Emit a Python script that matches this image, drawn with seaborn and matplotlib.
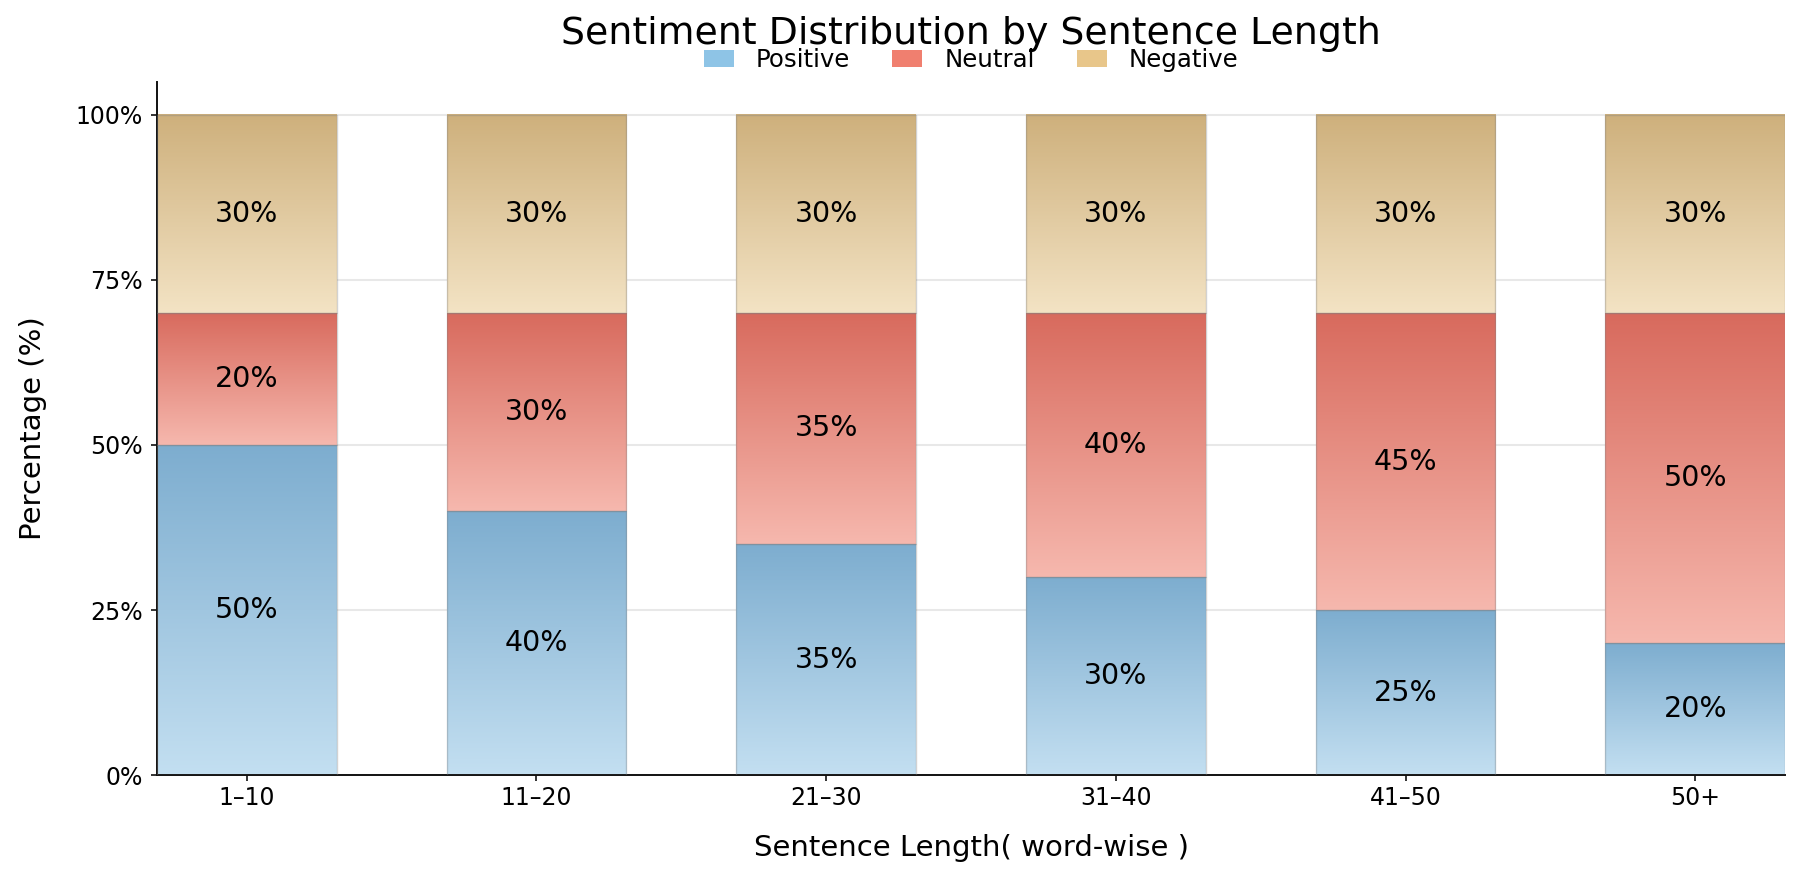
import numpy as np
import pandas as pd
import matplotlib
matplotlib.use("Agg")
import matplotlib.pyplot as plt
import seaborn as sns
from matplotlib.colors import LinearSegmentedColormap
from matplotlib.patches import Patch
from matplotlib.ticker import PercentFormatter

# ---------------------------------------
# Data
# ---------------------------------------

lengths = ["1–10", "11–20", "21–30", "31–40", "41–50", "50+"]
positive = [50, 40, 35, 30, 25, 20]
neutral = [20, 30, 35, 40, 45, 50]
negative = [30, 30, 30, 30, 30, 30]

sentiments = ["Positive", "Neutral", "Negative"]
legend_colors = ["#8ec4e6", "#f07f6f", "#e8c68a"]
# (bottom colour, top colour) of each gradient
grad_colors = [("#c3dff1", "#7dadcf"), ("#f6b8ae", "#d86a5d"), ("#f3e3c4", "#ceb07c")]

df = pd.DataFrame({"length": lengths, "Positive": positive,
                   "Neutral": neutral, "Negative": negative})

# ---------------------------------------
# Plot
# ---------------------------------------

sns.set_style("white")
plt.rcParams["font.family"] = ["DejaVu Sans"]
plt.rcParams.update({"text.color": "black", "axes.labelcolor": "black",
                     "xtick.color": "black", "ytick.color": "black"})

fig, ax = plt.subplots(figsize=(18, 8.89), dpi=100)
fig.subplots_adjust(left=0.0872, right=0.9917, bottom=0.1282, top=0.9078)

bottom = np.zeros(len(lengths))
for i, name in enumerate(sentiments):
    sns.barplot(x=df["length"], y=df[name], bottom=bottom, width=0.62,
                color=legend_colors[i], edgecolor=(0.5, 0.5, 0.5, 0.35),
                linewidth=1, zorder=3, ax=ax)
    cont = ax.containers[-1]
    cmap = LinearSegmentedColormap.from_list(name, list(grad_colors[i]))
    grad = np.linspace(0, 1, 256).reshape(-1, 1)
    for bar in cont:
        x0, y0 = bar.get_x(), bar.get_y()
        w, h = bar.get_width(), bar.get_height()
        bar.set_facecolor("none")
        ax.imshow(grad, cmap=cmap, origin="lower", aspect="auto",
                  extent=[x0, x0 + w, y0, y0 + h], zorder=2)
    ax.bar_label(cont, labels=[f"{v}%" for v in df[name]], label_type="center",
                 fontsize=20.5, color="black", zorder=5)
    bottom = bottom + df[name].values

ax.set_xlim(-0.31, len(lengths) - 1 + 0.31)
ax.set_ylim(0, 105)
ax.set_yticks([0, 25, 50, 75, 100])
ax.yaxis.set_major_formatter(PercentFormatter(xmax=100, decimals=0))
ax.yaxis.grid(True, color="#e8e8e8", linewidth=1.5, zorder=0)
ax.set_axisbelow(True)

sns.despine(ax=ax)
for s in ["left", "bottom"]:
    ax.spines[s].set_linewidth(1.4)
    ax.spines[s].set_color("#111111")
ax.tick_params(axis="both", which="major", labelsize=17, length=4.5, width=1.2,
               left=True, bottom=True, color="#111111")
ax.tick_params(axis="y", pad=6)

ax.set_xlabel("Sentence Length( word-wise )", fontsize=21, labelpad=17)
ax.set_ylabel("Percentage (%)", fontsize=21, labelpad=20)
ax.set_title("Sentiment Distribution by Sentence Length", fontsize=27.3, pad=27)

handles = [Patch(facecolor=c, edgecolor="none") for c in legend_colors]
ax.legend(handles, sentiments, loc="center", bbox_to_anchor=(0.5, 1.032),
          ncol=3, frameon=False, fontsize=17.6, handlelength=1.23,
          handleheight=0.7, handletextpad=0.9, columnspacing=1.72,
          borderpad=0.1)

plt.savefig("out.png", dpi=100)
